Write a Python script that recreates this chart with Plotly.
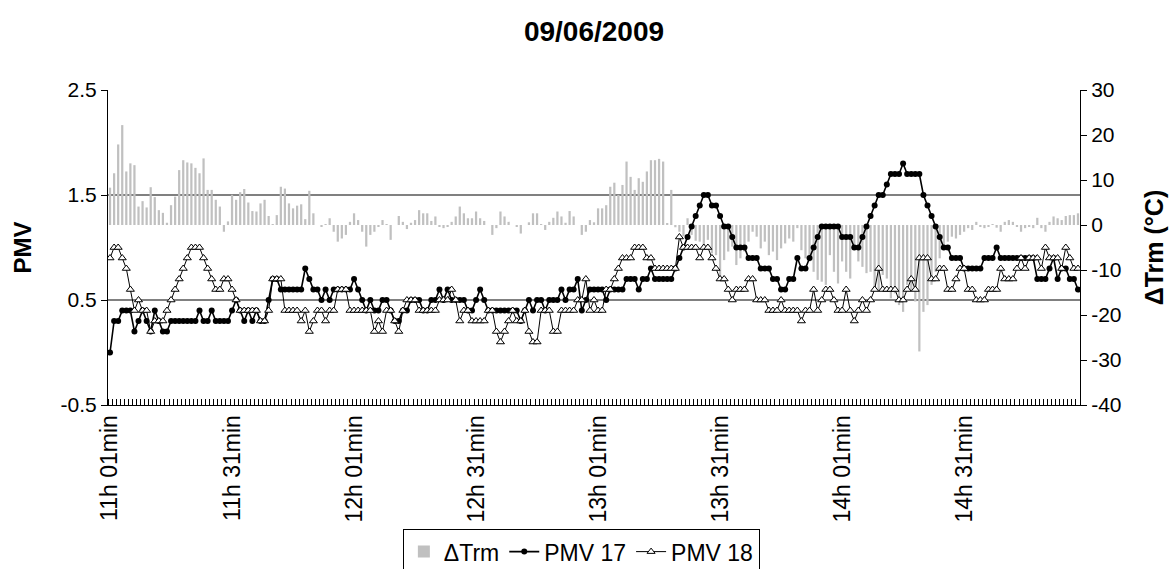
import plotly.graph_objects as go

# PMV 17 (black dots), one value per minute from 11h01 to 14h59
PMV17 = [
    0.0, 0.3, 0.3, 0.4, 0.4, 0.4, 0.2, 0.3, 0.4, 0.3, 0.2, 0.4, 0.3, 0.2, 0.2,
    0.3, 0.3, 0.3, 0.3, 0.3, 0.3, 0.3, 0.4, 0.3, 0.3, 0.4, 0.3, 0.3, 0.3, 0.3,
    0.4, 0.5, 0.4, 0.3, 0.4, 0.3, 0.4, 0.3, 0.3, 0.5, 0.7, 0.7, 0.6, 0.6, 0.6,
    0.6, 0.6, 0.6, 0.8, 0.7, 0.6, 0.6, 0.5, 0.6, 0.5, 0.6, 0.6, 0.6, 0.6,
    0.6, 0.7, 0.6, 0.5, 0.4, 0.5, 0.4, 0.4, 0.5, 0.5, 0.4, 0.3, 0.3, 0.4, 0.4,
    0.5, 0.5, 0.5, 0.4, 0.4, 0.5, 0.5, 0.6, 0.5, 0.6, 0.5, 0.5,
    0.5, 0.5, 0.4, 0.4, 0.5, 0.6, 0.5, 0.4, 0.4, 0.4, 0.4, 0.4, 0.4, 0.4, 0.4,
    0.3, 0.4, 0.5, 0.4, 0.5, 0.5, 0.4, 0.5, 0.5, 0.5, 0.6, 0.5, 0.6, 0.6, 0.7,
    0.4, 0.5, 0.6, 0.6, 0.6, 0.6, 0.5, 0.6, 0.6, 0.6, 0.6, 0.7, 0.7, 0.7, 0.6,
    0.7, 0.7, 0.8, 0.7, 0.7, 0.7, 0.7, 0.7,
    0.8, 0.9, 1.0, 1.1, 1.2, 1.3, 1.4, 1.5, 1.5,
    1.4, 1.4, 1.3, 1.2, 1.2, 1.1, 1.0, 1.0, 1.0, 0.9, 0.9, 0.9, 0.8, 0.8, 0.8,
    0.7, 0.7, 0.6, 0.6, 0.7, 0.7, 0.9, 0.8, 0.8, 0.9, 1.0, 1.1, 1.2, 1.2, 1.2,
    1.2, 1.2, 1.1, 1.1, 1.1, 1.0, 1.0, 1.1, 1.2, 1.3, 1.4, 1.5, 1.5, 1.6, 1.7,
    1.7, 1.7, 1.8, 1.7, 1.7, 1.7, 1.7, 1.5, 1.4, 1.3, 1.2, 1.1,
    1.0, 1.0, 0.9, 0.9, 0.9, 0.8, 0.8, 0.8, 0.8, 0.8, 0.9, 0.9, 0.9, 1.0, 0.9,
    0.9, 0.9, 0.9, 0.9, 0.9, 0.9, 0.9, 0.9, 0.7, 0.7, 0.7, 0.8, 0.9, 0.7, 0.8,
    0.8, 0.7, 0.7, 0.6,
]

# PMV 18 (open triangles)
PMV18 = [
    0.9, 1.0, 1.0, 0.9, 0.8, 0.6, 0.4, 0.5, 0.4, 0.4, 0.2, 0.3, 0.3, 0.3, 0.4,
    0.5, 0.6, 0.7, 0.8, 0.9, 1.0, 1.0, 1.0, 0.9, 0.8, 0.7, 0.6, 0.6, 0.7, 0.7,
    0.6, 0.5, 0.4, 0.4, 0.4, 0.4, 0.4, 0.3, 0.3, 0.4, 0.7, 0.7, 0.7, 0.4, 0.4,
    0.4, 0.4, 0.3, 0.4, 0.2, 0.3, 0.4, 0.4, 0.3, 0.4, 0.4, 0.6, 0.6, 0.6,
    0.4, 0.4, 0.4, 0.4, 0.4, 0.4, 0.2, 0.3, 0.2, 0.4, 0.4, 0.3, 0.2, 0.4, 0.5,
    0.5, 0.5, 0.4, 0.4, 0.4, 0.4, 0.4, 0.5, 0.5, 0.5, 0.6, 0.5, 0.3, 0.4, 0.4,
    0.3, 0.3, 0.3, 0.3, 0.4, 0.4, 0.2, 0.1, 0.2, 0.3, 0.4, 0.3, 0.3, 0.4, 0.2,
    0.1, 0.1, 0.4, 0.4, 0.4, 0.2, 0.2, 0.4, 0.4, 0.4, 0.4, 0.5, 0.5,
    0.7, 0.4, 0.5, 0.4, 0.4, 0.6, 0.6, 0.7, 0.8, 0.9, 0.9, 0.9, 1.0, 1.0, 1.0,
    0.9, 0.9, 0.8, 0.8, 0.8, 0.8, 0.8, 0.8, 1.1, 1.0, 1.0, 1.0, 1.0, 0.9, 1.0,
    1.0,
    0.9, 0.8, 0.7, 0.7, 0.6, 0.5, 0.6, 0.6, 0.6, 0.7, 0.7, 0.5, 0.5, 0.5, 0.4,
    0.4, 0.4, 0.5, 0.4, 0.4, 0.4, 0.4, 0.3, 0.4, 0.4, 0.6, 0.4, 0.5, 0.6, 0.6,
    0.5, 0.4, 0.4, 0.6, 0.4, 0.3, 0.4, 0.5, 0.4, 0.5, 0.6, 0.8, 0.6, 0.6, 0.6,
    0.6, 0.5, 0.5, 0.6, 0.7, 0.6, 0.9, 0.9, 0.9, 0.7, 0.7, 0.8,
    0.8, 0.6, 0.6, 0.7, 0.8, 0.8, 0.6, 0.6, 0.5, 0.5, 0.5, 0.6, 0.6, 0.6, 0.8,
    0.7, 0.7, 0.7, 0.8, 0.9, 0.8, 0.9, 0.9, 0.9, 0.8, 1.0, 0.9, 0.9, 0.9, 0.8,
    1.0, 0.9, 0.8, 0.8,
]

# Delta Trm (grey bars, right axis, degC)
DTRM = [
    8.3, 11.5, 17.9, 22.2, 11.9, 13.7, 13.3, 4.1, 5.3, 3.9, 8.4, 6.2, 3.3, 2.7,
    0.5, 4.4, 6.3, 12.2, 14.4, 13.9, 13.7, 12.7, 11.5, 14.8, 7.8, 7.8, 5.6, 4.1,
    -1.5, 0.8,
    6.7, 5.6, 7.3, 8.0, 5.0, 3.1, 3.0, 4.8, 5.6, 2.0, 0.2, 2.2, 8.5, 8.1, 4.8,
    3.7, 4.3, 4.6, 1.3, 7.6, 2.6, 0.0, -0.4, 0.2, 1.5, -1.5, -3.7, -3.0, -2.2,
    0.7, 2.6, 1.1, -1.5, -4.8, -2.2, -1.5, -0.4, 1.1, 0.2, -3.3, 0.0, 2.0, 0.7,
    -0.9, 0.5, 1.1, 3.3, 2.6, 2.6, 0.9, 1.9, -0.4, -0.7, -0.4, 0.7, 1.9,
    4.1, 2.6, 1.5, 1.5, 3.0, 1.5, 0.9, 0.0, -2.2, -0.7, 3.0, 1.9, 0.7, 0.0,
    -0.4, -1.9, 0.0, 0.6, 2.6, 2.6, 0.2, -1.1, 0.7, 1.6, 3.0, 1.9, 0.5, 3.1,
    1.9, 0.0, -2.2, -1.5,
    1.1, 0.6, 3.7, 3.7, 4.4, 8.5, 9.4, 6.7, 8.9, 14.1, 10.7, 7.8, 10.4, 9.6,
    11.9, 14.4, 14.4, 14.7, 14.1, 0.3, 7.8, -0.5, -1.5, -2.5, 1.5, -2.2, -3.5,
    -3.7, -5.2, -3.3, -6.3, -6.7, -11.9, -7.8, -5.9, -4.8, -8.9, -7.4, -5.9,
    -3.7, -1.5, -2.6, -5.2, -3.7, -6.7, -5.9, -7.8, -5.2, -4.1, -3.0, -3.7,
    -0.7, -5.6, -7.4, -8.1, -10.4, -12.2,
    -12.6, -13.3, -6.7, -10.4, -13.0, -8.1, -10.4, -11.9, -5.2, -8.1, -9.3,
    -10.7, -10.4, -14.1, -14.8, -11.1, -11.9, -16.3, -15.2, -17.8, -19.3,
    -13.3, -14.8, -17.0, -28.1, -19.3, -17.8, -13.3, -10.4, -7.4,
    -5.2, -3.7, -2.6, -3.0, -2.2, -1.5, -0.7, -1.1, 0.7, -0.4, -0.7, -0.4, 0.2,
    -0.6, -1.5, 0.7, 1.1, 0.7, -0.4, -1.5, -0.7, -0.4, -0.7, 1.6, -0.7, -1.5,
    0.7, 1.9, 1.5, 1.1, 2.0, 2.2, 2.2, 2.6,
]

TICK_LABELS = ["11h 01min", "11h 31min", "12h 01min", "12h 31min",
               "13h 01min", "13h 31min", "14h 01min", "14h 31min"]
PMV_TICKS = [-0.5, 0.5, 1.5, 2.5]
PMV_TICK_TEXT = ["-0.5", "0.5", "1.5", "2.5"]
DT_TICKS = [-40, -30, -20, -10, 0, 10, 20, 30]
DT_TICK_TEXT = ["-40", "-30", "-20", "-10", "0", "10", "20", "30"]

FONT = "Arial, 'Liberation Sans', sans-serif"
minutes = list(range(len(PMV17)))

fig = go.Figure()

# bars first, on the base axis, so the PMV lines sit on top of them
fig.add_trace(go.Bar(
    x=minutes, y=DTRM, name="ΔTrm", yaxis="y",
    marker={"color": "#c0c0c0", "line": {"width": 0}},
))
fig.add_trace(go.Scatter(
    x=minutes, y=PMV17, name="PMV 17", yaxis="y2", mode="lines+markers",
    line={"color": "black", "width": 1.6},
    marker={"symbol": "circle", "size": 6, "color": "black"},
))
fig.add_trace(go.Scatter(
    x=minutes, y=PMV18, name="PMV 18", yaxis="y2", mode="lines+markers",
    line={"color": "black", "width": 1},
    marker={"symbol": "triangle-up", "size": 7, "color": "white",
            "line": {"color": "black", "width": 1}},
))

fig.update_layout(
    width=1171, height=569,
    margin={"l": 108, "r": 91, "t": 90, "b": 164, "autoexpand": False},
    paper_bgcolor="white", plot_bgcolor="white",
    font={"family": FONT, "size": 21, "color": "black"},
    title={"text": "<b>09/06/2009</b>", "x": 0.5, "xanchor": "center",
           "xref": "paper", "y": 0.962, "yref": "container",
           "yanchor": "top", "font": {"size": 28}},
    bargap=0.45,
    showlegend=True,
    legend={"orientation": "h", "x": 0.487, "xanchor": "center",
            "xref": "paper", "y": 0.07, "yref": "container",
            "yanchor": "top", "bordercolor": "black",
            "borderwidth": 1, "font": {"size": 23}, "itemwidth": 30,
            "tracegroupgap": 0},
    xaxis={
        "range": [-0.5, len(PMV17) - 0.5],
        "tickmode": "array",
        "tickvals": [minutes[k] for k in range(0, len(PMV17), 30)],
        "ticktext": TICK_LABELS,
        "tickangle": -90, "ticks": "",
        "showline": True, "linecolor": "black", "linewidth": 1,
        "showgrid": False, "zeroline": False,
        "tickfont": {"size": 23},
        "minor": {"tick0": -0.5, "dtick": 1, "ticks": "inside",
                  "ticklen": 6, "tickcolor": "black", "showgrid": False},
    },
    yaxis={
        "side": "right", "range": [-40, 30],
        "tickmode": "array", "tickvals": DT_TICKS, "ticktext": DT_TICK_TEXT,
        "showline": True, "linecolor": "black", "linewidth": 1,
        "ticks": "outside", "ticklen": 6, "tickcolor": "black",
        "showgrid": False, "zeroline": False,
        "title": {"text": "<b>ΔTrm (°C)</b>", "font": {"size": 25},
                  "standoff": 24},
    },
    yaxis2={
        "overlaying": "y", "side": "left", "range": [-0.5, 2.5],
        "tickmode": "array", "tickvals": PMV_TICKS, "ticktext": PMV_TICK_TEXT,
        "showline": True, "linecolor": "black", "linewidth": 1,
        "ticks": "outside", "ticklen": 6, "tickcolor": "black",
        "showgrid": True, "gridcolor": "#808080", "gridwidth": 1.5,
        "zeroline": False,
        "title": {"text": "<b>PMV</b>", "font": {"size": 24}, "standoff": 22},
    },
)

# the page body has a default 8px margin; drop it so the figure sits at 0,0
fig.write_html("out.html", config={"displayModeBar": False},
               post_script="document.body.style.margin = '0';")
